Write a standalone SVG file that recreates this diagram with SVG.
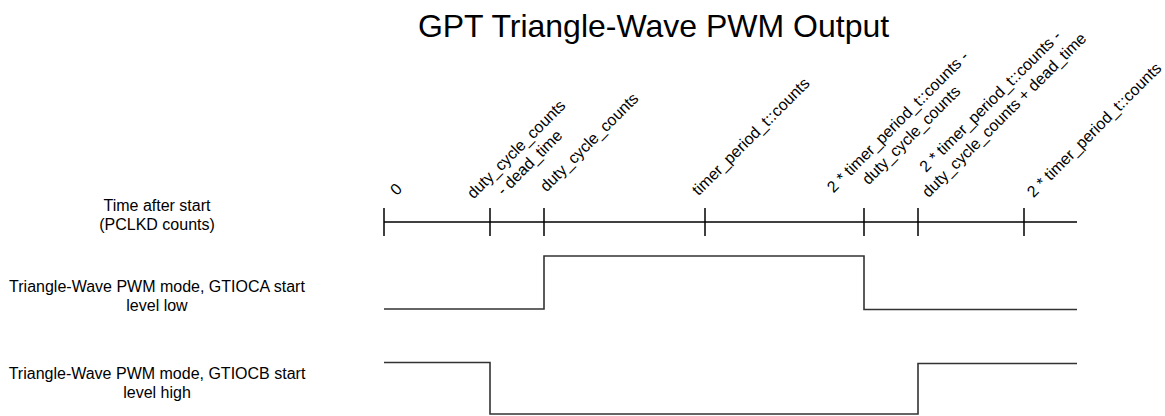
<svg xmlns="http://www.w3.org/2000/svg" width="1165" height="416" viewBox="0 0 1165 416">
  <style>
    text { font-family: "Liberation Sans", Arial, sans-serif; fill: #000; }
    .title { font-size: 32px; text-anchor: middle; }
    .lbl { font-size: 16px; text-anchor: middle; }
    .tick { font-size: 16px; text-anchor: middle; }
    .axis { stroke: #000; stroke-width: 1.5; fill: none; }
    .wave { stroke: #333; stroke-width: 1.6; fill: none; }
  </style>
  <rect width="1165" height="416" fill="#fff"/>
  <g id="title">
    <text class="title" x="653.5" y="37">GPT Triangle-Wave PWM Output</text>
  </g>
  <g id="row-labels">
    <g id="label-time">
      <text class="lbl" x="157" y="211">Time after start</text>
      <text class="lbl" x="157" y="230">(PCLKD counts)</text>
    </g>
    <g id="label-gtioca">
      <text class="lbl" x="157" y="292">Triangle-Wave PWM mode, GTIOCA start</text>
      <text class="lbl" x="157" y="311">level low</text>
    </g>
    <g id="label-gtiocb">
      <text class="lbl" x="157" y="379">Triangle-Wave PWM mode, GTIOCB start</text>
      <text class="lbl" x="157" y="398">level high</text>
    </g>
  </g>
  <g id="tick-labels">
    <g id="t0" transform="rotate(-45 400 193)">
      <text class="tick" x="400" y="193">0</text>
    </g>
    <g id="t1" transform="rotate(-45 520 153)">
      <text class="tick" x="520" y="153">duty_cycle_counts</text>
      <text class="tick" x="520" y="172">- dead_time</text>
    </g>
    <g id="t2" transform="rotate(-45 593 146)">
      <text class="tick" x="593" y="146">duty_cycle_counts</text>
    </g>
    <g id="t3" transform="rotate(-45 754.6 140.4)">
      <text class="tick" x="754.6" y="140.4">timer_period_t::counts</text>
    </g>
    <g id="t4" transform="rotate(-45 901.5 125.5)">
      <text class="tick" x="901.5" y="125.5">2 * timer_period_t::counts -</text>
      <text class="tick" x="901.5" y="144.5">duty_cycle_counts</text>
    </g>
    <g id="t5" transform="rotate(-45 994 105)">
      <text class="tick" x="994" y="105">2 * timer_period_t::counts -</text>
      <text class="tick" x="994" y="124.5">duty_cycle_counts + dead_time</text>
    </g>
    <g id="t6" transform="rotate(-45 1098 133.7)">
      <text class="tick" x="1098" y="133.7">2 * timer_period_t::counts</text>
    </g>
  </g>
  <g id="connectors">
    <g id="time-axis">
      <line class="axis" x1="384" y1="222" x2="1077" y2="222"/>
      <line class="axis" x1="384" y1="208" x2="384" y2="236"/>
      <line class="axis" x1="490" y1="208" x2="490" y2="236"/>
      <line class="axis" x1="544" y1="208" x2="544" y2="236"/>
      <line class="axis" x1="705" y1="208" x2="705" y2="236"/>
      <line class="axis" x1="864" y1="208" x2="864" y2="236"/>
      <line class="axis" x1="918" y1="208" x2="918" y2="236"/>
      <line class="axis" x1="1024" y1="208" x2="1024" y2="236"/>
    </g>
    <polyline id="wave-gtioca" class="wave" points="384,309 544,309 544,256 864,256 864,309.5 1077,309.5"/>
    <polyline id="wave-gtiocb" class="wave" points="384,362.5 490,362.5 490,414 918,414 918,363.5 1077,363.5"/>
  </g>
</svg>
